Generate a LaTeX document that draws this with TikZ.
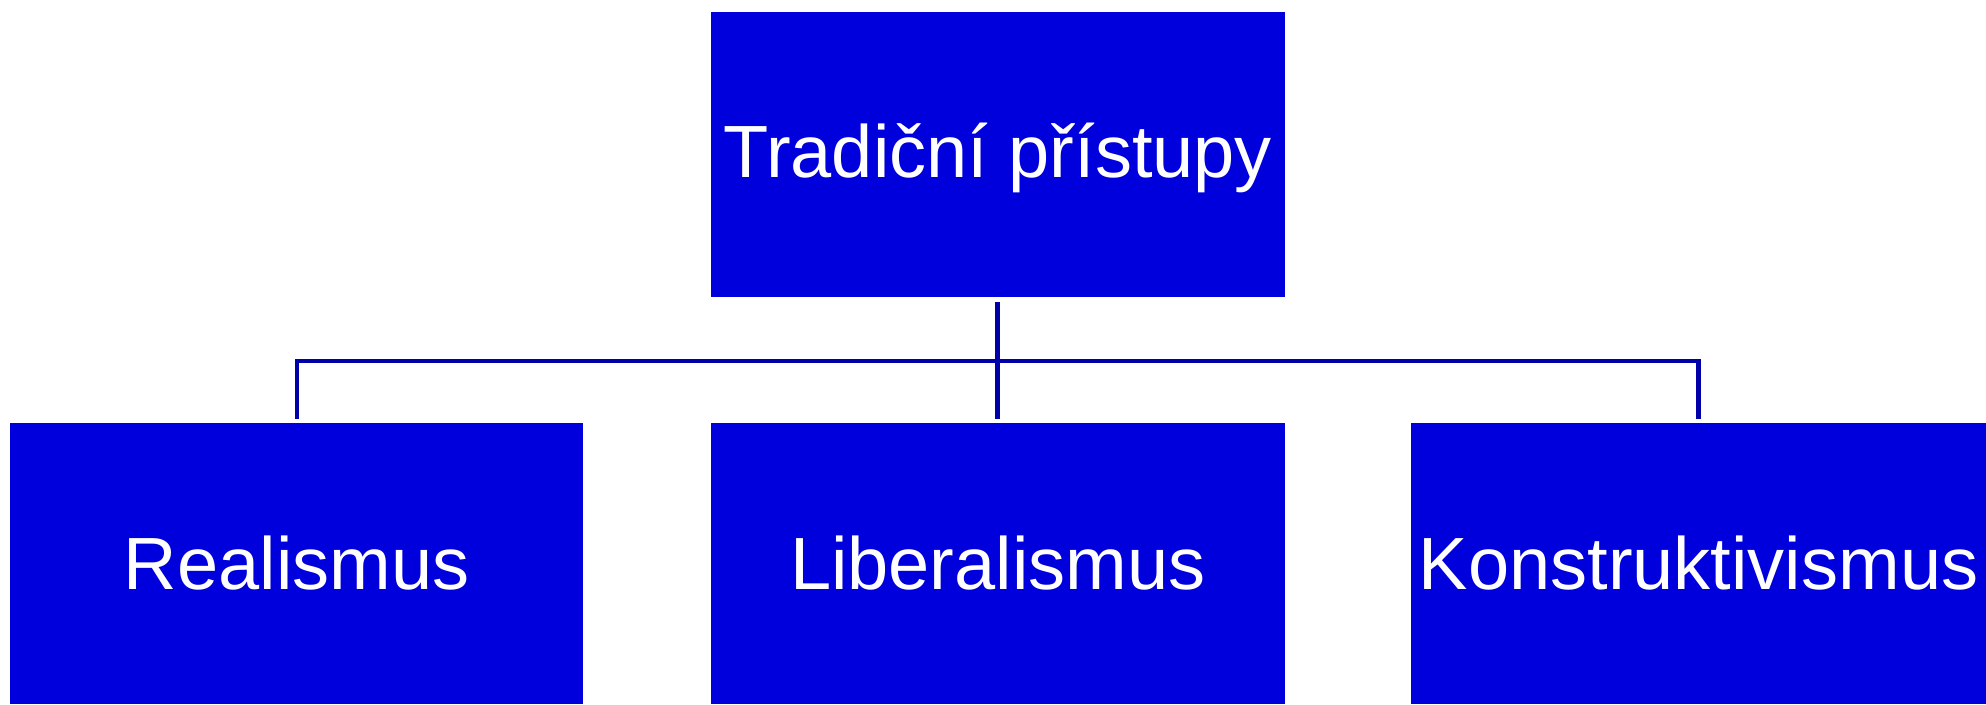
\documentclass[tikz,border=0pt]{standalone}
\usepackage{fontspec}
\setmainfont{Liberation Sans}
\definecolor{boxblue}{RGB}{0,0,220}
\definecolor{lineblue}{RGB}{0,0,170}
\begin{document}
\begin{tikzpicture}[x=1pt,y=-1pt,
  box/.style={draw=none,fill=boxblue,inner sep=0pt},
  lbl/.style={text=white,font=\fontsize{74}{88}\selectfont,anchor=base,inner sep=0pt},
  conn/.style={draw=lineblue,line width=4.5pt}]
\useasboundingbox (0,0) rectangle (1986,704);
% boxes
\path[box] (710.7,12.3) rectangle (1285,297.3);
\path[box] (10.3,423.3) rectangle (583,704);
\path[box] (710.7,423.3) rectangle (1285,704);
\path[box] (1411.3,423.3) rectangle (1986,704);
% labels
\node[lbl] (top) at (997.8,177.3) {Tradiční přístupy};
\node[lbl] (real) at (296.7,589) {Realismus};
\node[lbl] (lib) at (997.8,589) {Liberalismus};
\node[lbl] (kon) at (1698.6,589) {Konstruktivismus};
% connector coordinates
\coordinate (ctop) at (997.5,302.3);
\coordinate (cmid) at (997.5,361);
\coordinate (cl) at (297,361);
\coordinate (cr) at (1698.3,361);
\coordinate (lend) at (297,419);
\coordinate (mend) at (997.5,419);
\coordinate (rend) at (1698.3,419);
\draw[conn] (ctop) -- (mend);
\draw[conn] (lend) -- (cl) -- (cr) -- (rend);
\end{tikzpicture}
\end{document}
